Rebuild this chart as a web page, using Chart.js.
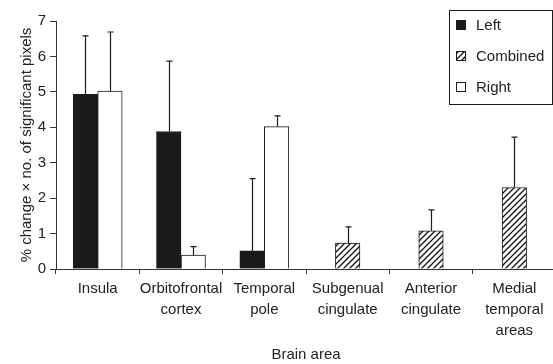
<!DOCTYPE html>
<html>
<head>
<meta charset="utf-8">
<script src="https://cdn.jsdelivr.net/npm/chart.js@4/dist/chart.umd.min.js"></script>
<style>
  html, body { margin: 0; padding: 0; background: #fff; overflow: hidden; }
  #wrap { position: absolute; left: 0; top: 0; width: 556px; height: 364px; }
</style>
</head>
<body>
<div id="wrap"><canvas id="c"></canvas></div>
<script>
// Brain areas (multi-line category labels)
const categories = [
  ['Insula'],
  ['Orbitofrontal', 'cortex'],
  ['Temporal', 'pole'],
  ['Subgenual', 'cingulate'],
  ['Anterior', 'cingulate'],
  ['Medial', 'temporal', 'areas']
];
const seriesNames = ['Left', 'Combined', 'Right'];

// Mean values per hemisphere / combined
const leftValues     = [4.93, 3.88, 0.51, null, null, null];
const combinedValues = [null, null, null, 0.73, 1.08, 2.30];
const rightValues    = [5.02, 0.39, 4.02, null, null, null];

// Upper error (added above each bar)
const leftErrors     = [1.65, 1.99, 2.04, null, null, null];
const combinedErrors = [null, null, null, 0.46, 0.59, 1.42];
const rightErrors    = [1.67, 0.24, 0.30, null, null, null];

const yTicks = [0, 1, 2, 3, 4, 5, 6, 7];

const INK = '#1c1c1c';
const FONT = '"Liberation Sans", Arial, sans-serif';

function hatchPattern() {
  const s = 6;
  const c = document.createElement('canvas');
  c.width = s; c.height = s;
  const g = c.getContext('2d');
  g.fillStyle = '#fff';
  g.fillRect(0, 0, s, s);
  g.strokeStyle = '#111';
  g.lineWidth = 1.3;
  g.beginPath();
  g.moveTo(0, s); g.lineTo(s, 0);
  g.moveTo(-s / 2, s / 2); g.lineTo(s / 2, -s / 2);
  g.moveTo(s / 2, s * 1.5); g.lineTo(s * 1.5, s / 2);
  g.stroke();
  return g.createPattern(c, 'repeat');
}

const errorsByDataset = [leftErrors, combinedErrors, rightErrors];

// One-sided (upward) error bars with a small cap
const errorBars = {
  id: 'errorBars',
  afterDatasetsDraw(chart) {
    const ctx = chart.ctx;
    const y = chart.scales.y;
    ctx.save();
    ctx.strokeStyle = INK;
    ctx.lineWidth = 1.2;
    chart.data.datasets.forEach((ds, i) => {
      const meta = chart.getDatasetMeta(i);
      const errs = errorsByDataset[i];
      meta.data.forEach((bar, j) => {
        const v = ds.data[j];
        if (v == null || errs[j] == null) return;
        const x = Math.round(bar.x) + 0.5;
        const yTop = y.getPixelForValue(v + errs[j]);
        const yBar = y.getPixelForValue(v);
        ctx.beginPath();
        ctx.moveTo(x, yBar);
        ctx.lineTo(x, yTop);
        ctx.moveTo(x - 3, yTop);
        ctx.lineTo(x + 3, yTop);
        ctx.stroke();
      });
    });
    ctx.restore();
  }
};

// Boxed legend in the upper-right corner
const boxLegend = {
  id: 'boxLegend',
  afterDraw(chart) {
    const ctx = chart.ctx;
    const bx = 449.5, by = 10.5, bw = 103, bh = 94;
    ctx.save();
    ctx.fillStyle = '#fff';
    ctx.fillRect(bx, by, bw, bh);
    ctx.strokeStyle = INK;
    ctx.lineWidth = 1;
    ctx.strokeRect(bx, by, bw, bh);
    ctx.font = '15px ' + FONT;
    ctx.textBaseline = 'middle';
    chart.data.datasets.forEach((ds, i) => {
      const cy = 25 + i * 31;
      ctx.fillStyle = ds.backgroundColor;
      ctx.fillRect(456, cy - 4.5, 9, 9);
      ctx.strokeStyle = INK;
      ctx.strokeRect(456.5, cy - 4.5, 9, 9);
      ctx.fillStyle = '#222';
      ctx.fillText(ds.label, 476, cy + 0.5);
    });
    ctx.restore();
  }
};

const barCommon = {
  borderColor: INK,
  borderWidth: 1,
  barThickness: 24.5,
  skipNull: true,
  borderSkipped: 'bottom'
};

new Chart(document.getElementById('c'), {
  type: 'bar',
  data: {
    labels: categories,
    datasets: [
      Object.assign({ label: seriesNames[0], data: leftValues, backgroundColor: '#1a1a1a' }, barCommon),
      Object.assign({ label: seriesNames[1], data: combinedValues, backgroundColor: hatchPattern() }, barCommon),
      Object.assign({ label: seriesNames[2], data: rightValues, backgroundColor: '#ffffff' }, barCommon)
    ]
  },
  options: {
    responsive: true,
    maintainAspectRatio: false,
    animation: false,
    layout: { padding: { top: 21, left: 0, right: 0, bottom: 0 } },
    plugins: {
      legend: { display: false },
      tooltip: { enabled: false }
    },
    scales: {
      x: {
        grid: { drawOnChartArea: false, offset: true, tickLength: 5, color: '#333' },
        border: { color: '#333', width: 1 },
        ticks: {
          color: '#222',
          font: { family: FONT, size: 15, lineHeight: 1.4 },
          maxRotation: 0, autoSkip: false, padding: 4
        },
        title: {
          display: true, text: 'Brain area', color: '#222',
          font: { family: FONT, size: 15 },
          padding: { top: 0, bottom: 0 }
        },
        afterFit(s) { s.height = 95; }
      },
      y: {
        min: 0, max: 7,
        afterBuildTicks(s) { s.ticks = yTicks.map(v => ({ value: v })); },
        grid: { drawOnChartArea: false, tickLength: 6, color: '#333' },
        border: { color: '#333', width: 1 },
        ticks: { color: '#222', font: { family: FONT, size: 15 }, padding: 4 },
        title: {
          display: true, text: '% change \u00d7 no. of significant pixels', color: '#222',
          font: { family: FONT, size: 15 },
          padding: { top: 18, bottom: 0 }
        },
        afterFit(s) { s.width = 56; }
      }
    }
  },
  plugins: [errorBars, boxLegend]
});
</script>
</body>
</html>
